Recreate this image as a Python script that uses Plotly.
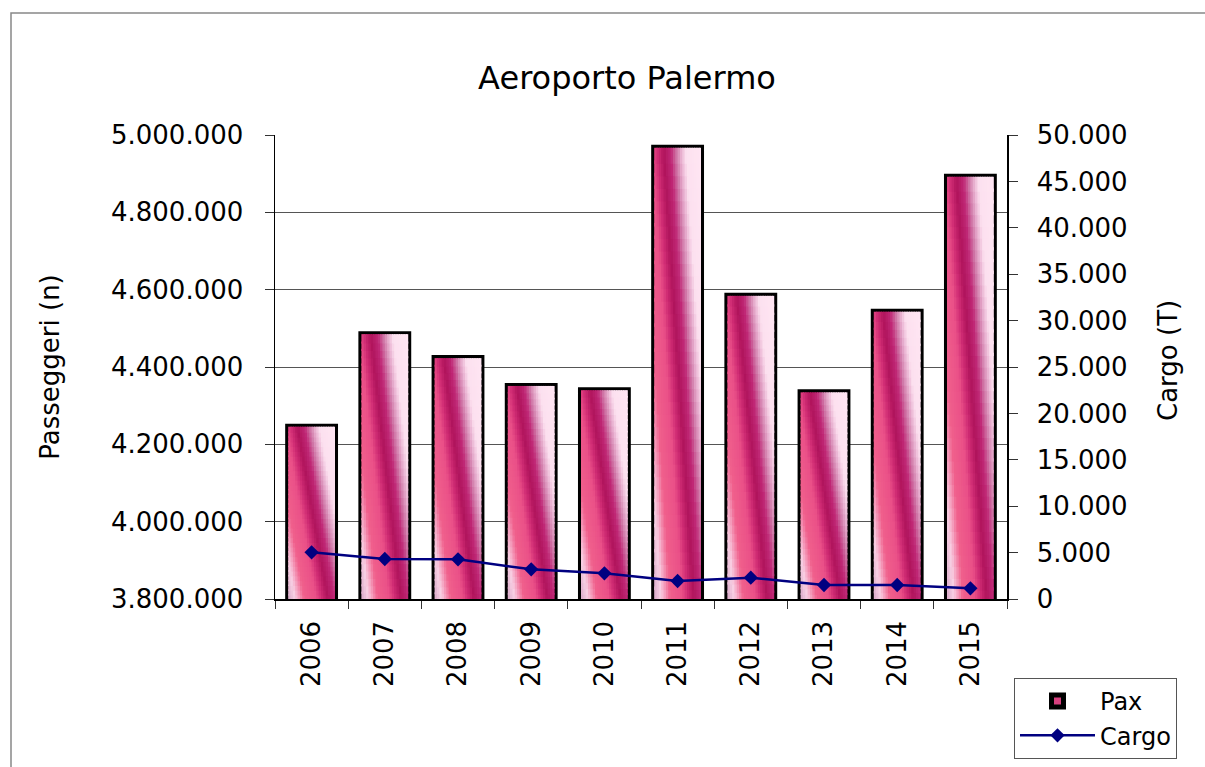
import plotly.graph_objects as go

# ---------------- data ----------------
years = ["2006", "2007", "2008", "2009", "2010", "2011", "2012", "2013", "2014", "2015"]
pax = [4245600, 4485000, 4423000, 4351000, 4340000, 4967000, 4584000, 4334500, 4543000, 4892000]
cargo = [5030, 4310, 4270, 3200, 2770, 1940, 2300, 1510, 1510, 1150]
pax_ticks = [3800000, 4000000, 4200000, 4400000, 4600000, 4800000, 5000000]
cargo_ticks = [0, 5000, 10000, 15000, 20000, 25000, 30000, 35000, 40000, 45000, 50000]

# ---------------- style ----------------
Y_MIN, Y_MAX = 3800000, 5000000
BAR_W = 0.64
N_STRIPS, N_SEGS = 20, 36
SLANT = 0.65
FONT = "DejaVu Sans"

stops = [
    (0.00, (216, 168, 200)),
    (0.15, (248, 208, 228)),
    (0.35, (240, 96, 140)),
    (0.60, (234, 80, 136)),
    (0.72, (208, 44, 116)),
    (0.85, (176, 20, 92)),
    (1.00, (192, 40, 118)),
    (1.12, (208, 120, 168)),
    (1.22, (232, 176, 208)),
    (1.32, (252, 224, 239)),
    (1.65, (255, 230, 243)),
]


def grad(t):
    if t <= stops[0][0]:
        c = stops[0][1]
    elif t >= stops[-1][0]:
        c = stops[-1][1]
    else:
        for (t0, c0), (t1, c1) in zip(stops[:-1], stops[1:]):
            if t0 <= t <= t1:
                f = (t - t0) / (t1 - t0)
                c = tuple(round(a + (b - a) * f) for a, b in zip(c0, c1))
                break
    return "rgb(%d,%d,%d)" % c


# gradient fill built as small overlapping bar pieces
gx, gy, gbase, goff, gwid, gcol = [], [], [], [], [], []
for year, p in zip(years, pax):
    h = p - Y_MIN
    for k in range(N_SEGS):
        lo = Y_MIN + h * k / N_SEGS
        ext = h * 0.008 if k > 0 else 0
        v = (k + 0.5) / N_SEGS
        for j in range(N_STRIPS):
            u = (j + 0.5) / N_STRIPS
            gx.append(year)
            gbase.append(lo - ext)
            gy.append(h / N_SEGS + ext)
            goff.append(-BAR_W / 2 + j * BAR_W / N_STRIPS)
            gwid.append(BAR_W / N_STRIPS * (1.5 if j < N_STRIPS - 1 else 1.0))
            gcol.append(grad(u + SLANT * v))

fig = go.Figure()

fig.add_trace(go.Bar(
    x=years, y=pax, name="Pax",
    width=BAR_W, offset=-BAR_W / 2,
    marker=dict(color="#d8407f", line=dict(color="black", width=6)),
    hoverinfo="skip",
))

fig.add_trace(go.Bar(
    x=gx, y=gy, base=gbase, offset=goff, width=gwid,
    marker=dict(color=gcol, line=dict(width=0)),
    showlegend=False, hoverinfo="skip",
))

fig.add_trace(go.Scatter(
    x=years, y=cargo, name="Cargo", yaxis="y2",
    mode="lines+markers",
    line=dict(color="#000080", width=2.5),
    marker=dict(symbol="diamond", size=11, color="#000080"),
))

# plot area: x 275..1007, y 135..599
L, R, T, B = 275, 198, 135, 168
W, H = 1205, 767
pw, ph = W - L - R, H - T - B


def px_x(x):
    return (x - L) / pw


def px_y(y):
    return (H - B - y) / ph


fig.update_layout(
    width=W, height=H,
    margin=dict(l=L, r=R, t=T, b=B, pad=0, autoexpand=False),
    paper_bgcolor="white", plot_bgcolor="white",
    barmode="overlay",
    separators=",.",
    font=dict(family=FONT, size=26, color="black"),
    title=dict(text="Aeroporto Palermo", font=dict(family=FONT, size=32, color="black"),
               x=px_x(627), xref="paper", xanchor="center",
               y=1 - 78 / H, yref="container", yanchor="middle"),
    xaxis=dict(type="category", range=[-0.5, 9.5], showgrid=False, zeroline=False,
               showline=True, linecolor="black", linewidth=1.5,
               ticks="outside", tickson="boundaries", ticklen=8, tickcolor="#333",
               tickangle=-90, tickfont=dict(size=26), ticklabelstandoff=10),
    yaxis=dict(range=[Y_MIN, Y_MAX], tickvals=pax_ticks, tickformat=",d",
               showgrid=True, gridcolor="#555555", gridwidth=1, zeroline=False,
               showline=True, linecolor="black", linewidth=1.5,
               ticks="outside", ticklen=9, tickcolor="#333",
               tickfont=dict(size=26), ticklabelstandoff=16,
               title=dict(text="Passeggeri (n)", font=dict(size=26), standoff=44)),
    yaxis2=dict(overlaying="y", side="right", range=[0, 50000], tickvals=cargo_ticks,
                tickformat=",d", showgrid=False, zeroline=False,
                showline=True, linecolor="black", linewidth=1.5,
                ticks="outside", ticklen=9, tickcolor="#333",
                tickfont=dict(size=26), ticklabelstandoff=14),
    annotations=[dict(text="Cargo (T)", textangle=-90, showarrow=False,
                      xref="paper", yref="paper", x=px_x(1168), y=px_y(361),
                      xanchor="center", yanchor="middle",
                      font=dict(family=FONT, size=26, color="black"))],
    legend=dict(x=1014 / W, y=1 - 678 / H, xref="container", yref="container",
                xanchor="left", yanchor="top",
                bgcolor="white", bordercolor="#555", borderwidth=1,
                font=dict(family=FONT, size=24, color="black"),
                itemwidth=75, entrywidth=185, entrywidthmode="pixels",
                traceorder="normal"),
    shapes=[dict(type="rect", xref="paper", yref="paper",
                 x0=px_x(11), x1=px_x(1215), y0=px_y(780), y1=px_y(13),
                 line=dict(color="#888888", width=1.5), layer="below")],
    showlegend=True,
)

fig.write_html("out.html", config={"displayModeBar": False, "staticPlot": True},
               post_script="document.body.style.margin='0';")
